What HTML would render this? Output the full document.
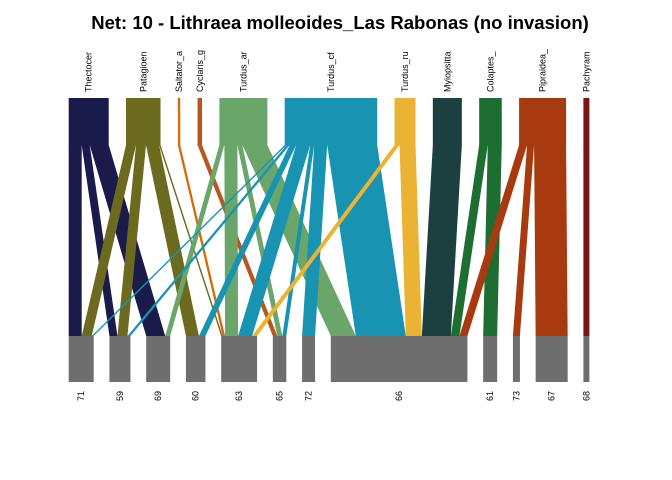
<!DOCTYPE html>
<html><head><meta charset="utf-8"><style>
body{margin:0;background:#fff;}
svg{display:block;font-family:"Liberation Sans",sans-serif;}
</style></head><body>
<svg id="chart" width="672" height="480">
<text x="340" y="29" text-anchor="middle" font-size="18.5" font-weight="bold">Net: 10 - Lithraea molleoides_Las Rabonas (no invasion)</text>
<g id="links"></g>
<g id="boxes"></g>
</svg>
<script>
const topNames = ["Thectocer","Patagioen","Saltator_a","Cyclaris_g","Turdus_ar","Turdus_cf","Turdus_ru","Myiopsitta","Colaptes_","Pipraidea_","Pachyram"];
const topColors = ["#1a1a4b","#6b6a1f","#d46a0c","#b5571f","#6aa56a","#1894b2","#eab334","#1c4040","#1f6e31","#a83a10","#7a1515"];
const bottomNames = ["71","59","69","60","63","65","72","66","61","73","67","68"];
// edges: [topIndex, bottomIndex, weight]
const edgeTop =    [0,0,0, 1,1,1,1, 2, 3, 4,4,4,4, 5,5,5,5,5,5,5, 6,6, 7, 8,8, 9,9,9, 10];
const edgeBottom = [0,1,2, 0,1,3,4, 4, 5, 2,4,5,7, 0,1,3,4,5,6,7, 4,7, 7, 7,8, 7,9,10, 11];
const edgeWeight = [13,8,19, 10,10,13,1.5, 2.4, 4.5, 5,13,5,25, 2,3,6.5,14,4,13,50, 5,16, 29, 8.6,14, 8,7,32, 6];

const X0=68.7, X1=589.4, TOPY0=98, TOPY1=145, BOTY0=336, BOTY1=382;
const NS="http://www.w3.org/2000/svg";
function layout(n, totals){
  const sum=totals.reduce((a,b)=>a+b,0);
  const gap=(X1-X0-sum)/(n-1);
  const pos=[];let x=X0;
  for(let i=0;i<n;i++){pos.push(x);x+=totals[i]+gap;}
  return pos;
}
const topTot=topNames.map((_,i)=>edgeWeight.reduce((s,w,k)=>s+(edgeTop[k]===i?w:0),0));
const botTot=bottomNames.map((_,i)=>edgeWeight.reduce((s,w,k)=>s+(edgeBottom[k]===i?w:0),0));
const topX=layout(topNames.length,topTot), botX=layout(bottomNames.length,botTot);
// stacking offsets
const topOff=topX.slice(), botOff=botX.slice();
const idx=edgeWeight.map((_,k)=>k);
const topStart={}, botStart={};
idx.slice().sort((a,b)=>edgeTop[a]-edgeTop[b]||edgeBottom[a]-edgeBottom[b]).forEach(k=>{topStart[k]=topOff[edgeTop[k]];topOff[edgeTop[k]]+=edgeWeight[k];});
idx.slice().sort((a,b)=>edgeBottom[a]-edgeBottom[b]||edgeTop[a]-edgeTop[b]).forEach(k=>{botStart[k]=botOff[edgeBottom[k]];botOff[edgeBottom[k]]+=edgeWeight[k];});
const lg=document.getElementById('links'), bg=document.getElementById('boxes');
idx.forEach(k=>{
  const p=document.createElementNS(NS,'polygon');
  const a=topStart[k], b=botStart[k], w=edgeWeight[k];
  p.setAttribute('points',`${a},${TOPY1} ${a+w},${TOPY1} ${b+w},${BOTY0} ${b},${BOTY0}`);
  p.setAttribute('fill',topColors[edgeTop[k]]);
  
  
  lg.appendChild(p);
});
topNames.forEach((n,i)=>{
  const r=document.createElementNS(NS,'rect');
  r.setAttribute('x',topX[i]);r.setAttribute('y',TOPY0);r.setAttribute('width',topTot[i]);r.setAttribute('height',TOPY1-TOPY0+0.5);
  r.setAttribute('fill',topColors[i]);
  
  
  bg.appendChild(r);
  const t=document.createElementNS(NS,'text');
  const cx=topX[i]+topTot[i]/2+3;
  t.setAttribute('transform',`translate(${cx},92) rotate(-90)`);
  t.setAttribute('font-size','9');
  t.textContent=n;
  
  
  bg.appendChild(t);
});
bottomNames.forEach((n,i)=>{
  const r=document.createElementNS(NS,'rect');
  r.setAttribute('x',botX[i]);r.setAttribute('y',BOTY0);r.setAttribute('width',botTot[i]);r.setAttribute('height',BOTY1-BOTY0);
  r.setAttribute('fill','#6e6e6e');
  
  
  bg.appendChild(r);
  const t=document.createElementNS(NS,'text');
  const cx=botX[i]+botTot[i]/2+3;
  t.setAttribute('transform',`translate(${cx},391) rotate(-90)`);
  t.setAttribute('font-size','9');
  t.setAttribute('text-anchor','end');
  t.textContent=n;
  
  
  bg.appendChild(t);
});
</script>
</body></html>
